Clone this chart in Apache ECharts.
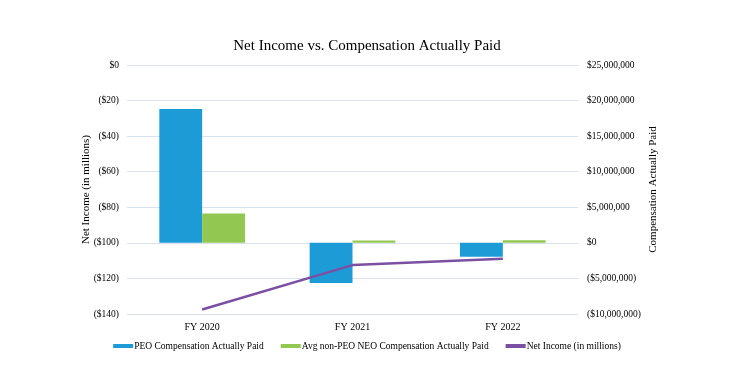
<!DOCTYPE html>
<html><head><meta charset="utf-8">
<script src="https://cdn.jsdelivr.net/npm/echarts@6/dist/echarts.min.js"></script>
<style>html,body{margin:0;padding:0;background:#fff}#c{width:734px;height:372px}</style>
</head><body><div id="c"></div>
<script>
const categories = ['FY 2020', 'FY 2021', 'FY 2022'];
const peoCAP = [18800000, -5630000, -1970000];
const neoCAP = [4140000, 340000, 380000];
const netIncome = [-137.5, -112.5, -109];
const seriesNames = ['PEO Compensation Actually Paid', 'Avg non-PEO NEO Compensation Actually Paid', 'Net Income (in millions)'];

const FONT = '"Liberation Serif", "Times New Roman", serif';
function fmtLeft(v){ return v < 0 ? '($' + Math.abs(v) + ')' : '$' + v; }
function fmtRight(v){
  const s = Math.abs(v).toLocaleString('en-US');
  return v < 0 ? '($' + s + ')' : '$' + s;
}
const chart = echarts.init(document.getElementById('c'));
chart.setOption({
  animation: false,
  textStyle: { fontFamily: FONT, color: '#000' },
  title: { text: 'Net Income vs. Compensation Actually Paid', left: 'center', top: 34,
    textStyle: { fontFamily: FONT, fontSize: 15, fontWeight: 'normal', color: '#000' } },
  grid: { left: 127, right: 156, top: 65, bottom: 58 },
  legend: {
    bottom: 16, left: 'center', itemGap: 17, itemWidth: 20, itemHeight: 4,
    textStyle: { fontFamily: FONT, fontSize: 9.5, color: '#000', padding: [0, 0, 0, -4] },
    data: [
      { name: seriesNames[0], icon: 'rect' },
      { name: seriesNames[1], icon: 'rect' },
      { name: seriesNames[2], icon: 'rect' }
    ]
  },
  xAxis: { type: 'category', data: categories,
    axisLine: { show: false }, axisTick: { show: false },
    axisLabel: { fontFamily: FONT, fontSize: 10, color: '#000', margin: 8 } },
  yAxis: [
    { type: 'value', min: -140, max: 0, interval: 20,
      name: 'Net Income (in millions)', nameLocation: 'middle', nameGap: 35, nameRotate: 90,
      nameMoveOverlap: false,
      nameTextStyle: { fontFamily: FONT, fontSize: 11, color: '#000' },
      axisLine: { show: false }, axisTick: { show: false },
      axisLabel: { formatter: fmtLeft, fontFamily: FONT, fontSize: 9.5, color: '#000', margin: 8 },
      splitLine: { lineStyle: { color: '#D8E2EC', width: 1 } } },
    { type: 'value', min: -10000000, max: 25000000, interval: 5000000,
      name: 'Compensation Actually Paid', nameLocation: 'middle', nameGap: 70, nameRotate: 90,
      nameMoveOverlap: false,
      nameTextStyle: { fontFamily: FONT, fontSize: 11, color: '#000' },
      axisLine: { show: false }, axisTick: { show: false },
      axisLabel: { formatter: fmtRight, fontFamily: FONT, fontSize: 9.5, color: '#000', margin: 9 },
      splitLine: { show: false } }
  ],
  series: [
    { name: seriesNames[0], type: 'bar', yAxisIndex: 1, data: peoCAP, barGap: '0%', barCategoryGap: '43%',
      itemStyle: { color: '#1D9BD7' } },
    { name: seriesNames[1], type: 'bar', yAxisIndex: 1, data: neoCAP,
      itemStyle: { color: '#92C852' } },
    { name: seriesNames[2], type: 'line', yAxisIndex: 0, data: netIncome, symbol: 'none',
      lineStyle: { color: '#7B4FA2', width: 2.5 }, itemStyle: { color: '#7B4FA2' } }
  ]
});
</script></body></html>
